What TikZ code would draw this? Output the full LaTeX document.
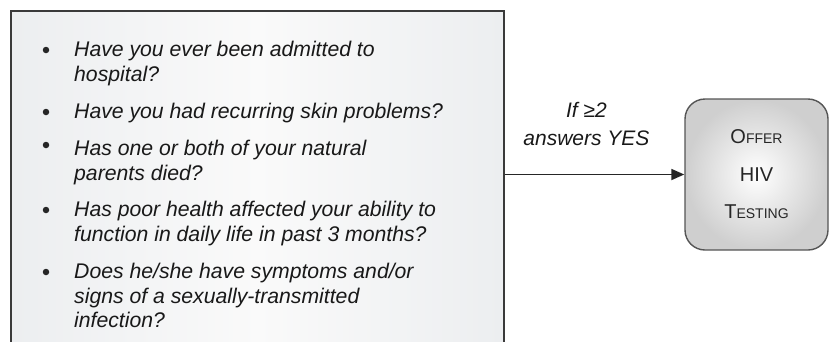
\documentclass[tikz,border=0pt]{standalone}
\usepackage{fontspec}
\setmainfont{Liberation Sans}
\usetikzlibrary{arrows.meta, positioning}
\definecolor{PanelGray}{HTML}{ECEEF0}
\definecolor{EdgeGray}{HTML}{3A3A3A}
\definecolor{BoxEdge}{HTML}{555555}

\newcommand{\capword}[2]{#1{\fontsize{14}{14}\selectfont #2}}

\begin{document}
\begin{tikzpicture}[
    x=1pt, y=-1pt,
    >={Triangle[length=13pt, width=11pt]},
    panel/.style={
        draw=EdgeGray,
        line width=1.7pt,
        left color=PanelGray,
        right color=PanelGray,
        middle color=white!96!gray,
        minimum width=493pt,
        minimum height=345pt,
        anchor=north west,
        inner sep=0pt
    },
    question/.style={font=\fontsize{21.2}{24.5}\selectfont\itshape, align=left, anchor=north west, inner sep=0pt, text=black!90},
    bul/.style={circle, fill=black!85, inner sep=0pt, minimum size=6.5pt},
    cond/.style={font=\fontsize{21}{28}\selectfont\itshape, align=center, inner sep=0pt, text=black!90},
    action/.style={
        draw=BoxEdge,
        line width=1.4pt,
        rounded corners=20pt,
        minimum width=143pt,
        minimum height=151pt,
        shading=radial,
        inner color=white,
        outer color=gray!38,
        align=center,
        text=black!85,
        font=\fontsize{20}{37.5}\selectfont
    }
]
\useasboundingbox (0,0) rectangle (830,341);
\clip (0,0) rectangle (830,341);

\node[panel] (qs) at (10,10) {};

% questions
\node[bul] (b1) at (46,50) {};
\node[question] (q1) at (74,41) {Have you ever been admitted to\\hospital?};
\node[bul] (b2) at (46,112) {};
\node[question] (q2) at (74,103) {Have you had recurring skin problems?};
\node[bul] (b3) at (46,145) {};
\node[question] (q3) at (74,140) {Has one or both of your natural\\parents died?};
\node[bul] (b4) at (46,210) {};
\node[question] (q4) at (74,201) {Has poor health affected your ability to\\function in daily life in past 3 months?};
\node[bul] (b5) at (46,272) {};
\node[question] (q5) at (74,263) {Does he/she have symptoms and/or\\signs of a sexually-transmitted\\infection?};

% outcome
\node[action] (offer) at (756.5,174.5) {\capword{O}{FFER}\\HIV\\\capword{T}{ESTING}};

\draw[->, line width=1.8pt, draw=black!85] (qs.east |- offer.west) -- node[cond, pos=0.455, above=28pt] {If ≥2\\answers YES} (offer.west);

\end{tikzpicture}
\end{document}
